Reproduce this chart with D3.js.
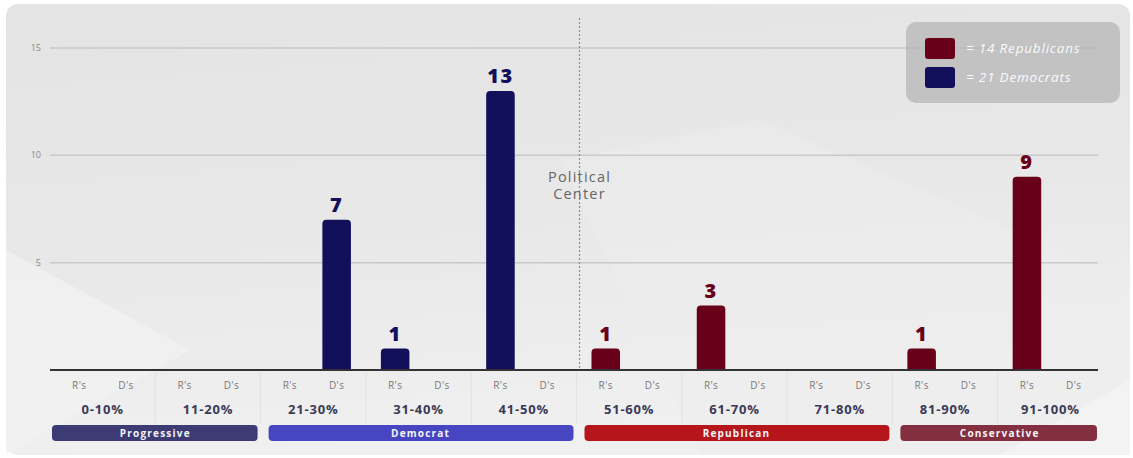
<!DOCTYPE html>
<html>
<head>
<meta charset="utf-8">
<script src="https://cdn.jsdelivr.net/npm/d3@7"></script>
<style>
  html, body { margin: 0; padding: 0; background: #fff; }
  svg { display: block; font-family: "Open Sans", "DejaVu Sans", sans-serif; }
</style>
</head>
<body>
<svg id="chart" width="1133" height="458"></svg>
<script>
// data
var categories = ["0-10%", "11-20%", "21-30%", "31-40%", "41-50%", "51-60%", "61-70%", "71-80%", "81-90%", "91-100%"]
var slots = ["R's", "D's"]
var yTicks = [5, 10, 15]

var barCategory = ["21-30%", "31-40%", "41-50%", "51-60%", "61-70%", "81-90%", "91-100%"]
var barSlot = ["D's", "R's", "R's", "R's", "R's", "R's", "R's"]
var barParty = ["Democrat", "Democrat", "Democrat", "Republican", "Republican", "Republican", "Republican"]
var barValue = [7, 1, 13, 1, 3, 1, 9]

var bandNames = ["Progressive", "Democrat", "Republican", "Conservative"]
var bandFrom = ["0-10%", "21-30%", "51-60%", "81-90%"]
var bandTo = ["11-20%", "41-50%", "71-80%", "91-100%"]

var legendLabels = ["=  14 Republicans", "=  21 Democrats"]
var legendParty = ["Republican", "Democrat"]

var partyColor = { Democrat: "#12105a", Republican: "#690019" }
var bandColor = { Progressive: "#3d3b74", Democrat: "#4745c1", Republican: "#b5161c", Conservative: "#842f3f" }

var svg = d3.select('#chart')
var base = 370

// card background
var defs = svg.append('defs')
var grad = defs.append('linearGradient').attr('id', 'bg').attr('x1', 0).attr('y1', 0).attr('x2', 0.2).attr('y2', 1)
grad.append('stop').attr('offset', '0%').attr('stop-color', '#e4e4e4')
grad.append('stop').attr('offset', '55%').attr('stop-color', '#e8e8e8')
grad.append('stop').attr('offset', '100%').attr('stop-color', '#f0f0f0')

svg.append('rect')
    .attr('x', 6).attr('y', 4).attr('width', 1124).attr('height', 451)
    .attr('rx', 12).attr('fill', 'url(#bg)')

// faint decorative facets in the background
svg.append('path').attr('d', 'M6,250 L190,350 L6,455 Z').attr('fill', '#f2f2f2').attr('opacity', 0.7)
svg.append('path').attr('d', 'M560,160 L760,120 L1130,280 L1130,455 L700,455 Z').attr('fill', '#ececec').attr('opacity', 0.6)
svg.append('path').attr('d', 'M1000,455 L1130,380 L1130,455 Z').attr('fill', '#f3f3f3')

var x = d3.scaleBand().domain(categories).range([50, 1103])
var xs = d3.scaleBand().domain(slots).range([0, x.bandwidth()]).paddingInner(0.39).paddingOuter(0.32)
var y = d3.scaleLinear().domain([0, 15]).range([base, 48])

// grid
svg.append('g').selectAll('line')
    .data(yTicks).enter().append('line')
    .attr('x1', 50).attr('x2', 1098)
    .attr('y1', d => y(d)).attr('y2', d => y(d))
    .attr('stroke', '#c9c9c9').attr('stroke-width', 1.5)

svg.append('g').selectAll('text')
    .data(yTicks).enter().append('text')
    .attr('x', 41).attr('y', d => y(d) + 3)
    .attr('text-anchor', 'end')
    .attr('font-size', 9).attr('fill', '#8a8a8a')
    .text(d => d)

// group separators under the axis
svg.append('g').selectAll('line')
    .data(categories.slice(1)).enter().append('line')
    .attr('x1', d => x(d)).attr('x2', d => x(d))
    .attr('y1', base + 2).attr('y2', 424)
    .attr('stroke', '#000').attr('stroke-opacity', 0.05)

// political center
var cx = x("51-60%") + 3
svg.append('line')
    .attr('x1', cx).attr('x2', cx).attr('y1', 18).attr('y2', base)
    .attr('stroke', '#8d8d8d').attr('stroke-width', 1.2).attr('stroke-dasharray', '2,2')

svg.append('text')
    .attr('x', cx).attr('y', 182)
    .attr('text-anchor', 'middle').attr('font-size', 14.5).attr('fill', '#666')
    .attr('letter-spacing', 1.2)
    .selectAll('tspan').data(["Political", "Center"]).enter().append('tspan')
    .attr('x', cx).attr('dy', (d, i) => i ? 17 : 0)
    .text(d => d)

// bars
function barPath(x0, w, top, r) {
    r = Math.min(r, (base - top))
    return 'M' + x0 + ',' + base +
        'V' + (top + r) +
        'Q' + x0 + ',' + top + ' ' + (x0 + r) + ',' + top +
        'H' + (x0 + w - r) +
        'Q' + (x0 + w) + ',' + top + ' ' + (x0 + w) + ',' + (top + r) +
        'V' + base + 'Z'
}

var bars = barValue.map((v, i) => ({ cat: barCategory[i], slot: barSlot[i], party: barParty[i], value: v }))

svg.append('g').selectAll('path')
    .data(bars).enter().append('path')
    .attr('d', d => barPath(x(d.cat) + xs(d.slot), xs.bandwidth(), y(d.value), 4))
    .attr('fill', d => partyColor[d.party])

svg.append('g').selectAll('text')
    .data(bars).enter().append('text')
    .attr('x', d => x(d.cat) + xs(d.slot) + xs.bandwidth() / 2)
    .attr('y', d => y(d.value) - 8)
    .attr('text-anchor', 'middle')
    .attr('font-size', 20).attr('font-weight', 800)
    .attr('letter-spacing', 1.5)
    .attr('fill', d => partyColor[d.party])
    .text(d => d.value)

// baseline
svg.append('line')
    .attr('x1', 50).attr('x2', 1098).attr('y1', base).attr('y2', base)
    .attr('stroke', '#333').attr('stroke-width', 2)

// slot and category labels
var groups = svg.append('g').selectAll('g')
    .data(categories).enter().append('g')
    .attr('transform', d => 'translate(' + x(d) + ',0)')

groups.selectAll('text.slot')
    .data(slots).enter().append('text')
    .attr('class', 'slot')
    .attr('x', d => xs(d) + xs.bandwidth() / 2)
    .attr('y', 389)
    .attr('text-anchor', 'middle')
    .attr('font-size', 10).attr('fill', '#7a7a7a')
    .attr('letter-spacing', 0.4)
    .text(d => d)

groups.append('text')
    .attr('x', x.bandwidth() / 2).attr('y', 414)
    .attr('text-anchor', 'middle')
    .attr('font-size', 13).attr('font-weight', 700)
    .attr('fill', '#3a3a56').attr('letter-spacing', 0.8)
    .text(d => d)

// ideology bands
var bands = bandNames.map((n, i) => ({ name: n, from: bandFrom[i], to: bandTo[i], i: i }))
var bandG = svg.append('g').selectAll('g')
    .data(bands).enter().append('g')

bandG.append('rect')
    .attr('x', d => x(d.from) + (d.i ? 8 : 2))
    .attr('width', d => x(d.to) + x.bandwidth() - x(d.from) - (d.i ? 8 : 2) - (d.i == 3 ? 6 : 3))
    .attr('y', 425).attr('height', 16).attr('rx', 4)
    .attr('fill', d => bandColor[d.name])

bandG.append('text')
    .attr('x', d => (x(d.from) + x(d.to) + x.bandwidth()) / 2 + (d.i ? 2 : 0))
    .attr('y', 437)
    .attr('text-anchor', 'middle')
    .attr('font-size', 10).attr('font-weight', 700)
    .attr('letter-spacing', 1.2)
    .attr('fill', '#f4f4f8')
    .text(d => d.name)

// legend
var lg = svg.append('g').attr('transform', 'translate(906,22)')
lg.append('rect')
    .attr('width', 214).attr('height', 81).attr('rx', 10)
    .attr('fill', '#b4b4b4').attr('fill-opacity', 0.72)

var items = lg.selectAll('g')
    .data(legendLabels).enter().append('g')
    .attr('transform', (d, i) => 'translate(19,' + (16 + i * 29) + ')')

items.append('rect')
    .attr('width', 30).attr('height', 21).attr('rx', 3)
    .attr('fill', (d, i) => partyColor[legendParty[i]])

items.append('text')
    .attr('x', 41).attr('y', 15)
    .attr('font-size', 13.5).attr('font-style', 'italic')
    .attr('letter-spacing', 0.8)
    .attr('fill', '#fafafa')
    .text(d => d)
</script>
</body>
</html>
